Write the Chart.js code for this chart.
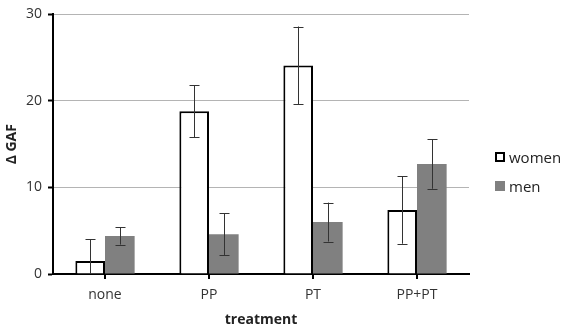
<!DOCTYPE html>
<html>
<head>
<meta charset="utf-8">
<script src="https://cdn.jsdelivr.net/npm/chart.js@4"></script>
<style>
  body { margin: 0; background: #fff; }
  #wrap { position: relative; width: 561px; height: 328px; }
  #legend { position: absolute; left: 495px; top: 142px; font-family: "Open Sans", sans-serif; font-size: 15px; color: #222; }
  #legend div { height: 29px; display: flex; align-items: center; }
  #legend span.box { display: inline-block; width: 10px; height: 10px; margin-right: 4px; box-sizing: border-box; }
</style>
</head>
<body>
<div id="wrap">
  <canvas id="gafChart" width="561" height="328"></canvas>
  <div id="legend">
    <div><span class="box" style="border:2px solid #000;background:#fff"></span>women</div>
    <div><span class="box" style="background:#808080"></span>men</div>
  </div>
</div>
<script>
var categories = ["none", "PP", "PT", "PP+PT"];
var women = [1.5, 18.8, 24.1, 7.4];
var womenErr = [2.5, 3.0, 4.5, 3.9];
var men = [4.4, 4.6, 6.0, 12.7];
var menErr = [1.0, 2.4, 2.25, 2.85];
var yTicks = [0, 10, 20, 30];

var errorBars = {
  id: "errorBars",
  afterDatasetsDraw: function (chart) {
    var ctx = chart.ctx;
    var y = chart.scales.y;
    var area = chart.chartArea;
    ctx.save();
    ctx.beginPath();
    ctx.rect(area.left, area.top - 10, area.right - area.left, area.bottom - area.top + 10);
    ctx.clip();
    ctx.strokeStyle = "#333";
    ctx.lineWidth = 1;
    chart.data.datasets.forEach(function (ds, i) {
      var meta = chart.getDatasetMeta(i);
      meta.data.forEach(function (bar, j) {
        var v = ds.data[j], e = ds.err[j];
        var top = y.getPixelForValue(v + e);
        var bot = y.getPixelForValue(v - e);
        var x = Math.round(bar.x) + 0.5;
        ctx.beginPath();
        ctx.moveTo(x, top); ctx.lineTo(x, bot);
        ctx.moveTo(x - 5, Math.round(top) + 0.5); ctx.lineTo(x + 5, Math.round(top) + 0.5);
        ctx.moveTo(x - 5, Math.round(bot) + 0.5); ctx.lineTo(x + 5, Math.round(bot) + 0.5);
        ctx.stroke();
      });
    });
    ctx.restore();
  }
};

new Chart("gafChart", {
  type: "bar",
  data: {
    labels: categories,
    datasets: [{
      label: "women",
      data: women,
      err: womenErr,
      backgroundColor: "#ffffff",
      borderColor: "#000000",
      borderWidth: 2,
      categoryPercentage: 0.57,
      barPercentage: 1
    },
    {
      label: "men",
      data: men,
      err: menErr,
      backgroundColor: "#808080",
      borderWidth: 0,
      categoryPercentage: 0.57,
      barPercentage: 1
    }]
  },
  plugins: [errorBars],
  options: {
    responsive: false,
    animation: false,
    layout: { padding: { top: 9, right: 92, left: 0, bottom: 0 } },
    plugins: {
      legend: { display: false },
      tooltip: { enabled: false }
    },
    scales: {
      x: {
        grid: { display: true, drawOnChartArea: false, offset: false, color: "#000", lineWidth: 2, tickLength: 5 },
        border: { color: "#000", width: 2 },
        ticks: { color: "#333", font: { family: "Open Sans", size: 14 }, padding: 8 },
        title: { display: true, text: "treatment", color: "#222", font: { family: "Open Sans", size: 14, weight: "bold" }, padding: { top: 4, bottom: 0 } },
        afterFit: function (s) { s.height = 54; }
      },
      y: {
        min: 0,
        max: 30,
        afterBuildTicks: function (s) { s.ticks = yTicks.map(function (v) { return { value: v }; }); },
        grid: { color: "#b4b4b4", lineWidth: 1, tickLength: 5, tickColor: "#000", tickWidth: 2 },
        border: { color: "#000", width: 2 },
        ticks: { color: "#333", font: { family: "Open Sans", size: 14 }, padding: 6 },
        title: { display: true, text: "Δ GAF", color: "#222", font: { family: "Open Sans", size: 14, weight: "bold" }, padding: { bottom: 4 } },
        afterFit: function (s) { s.width = 53; }
      }
    }
  }
});
</script>
</body>
</html>
